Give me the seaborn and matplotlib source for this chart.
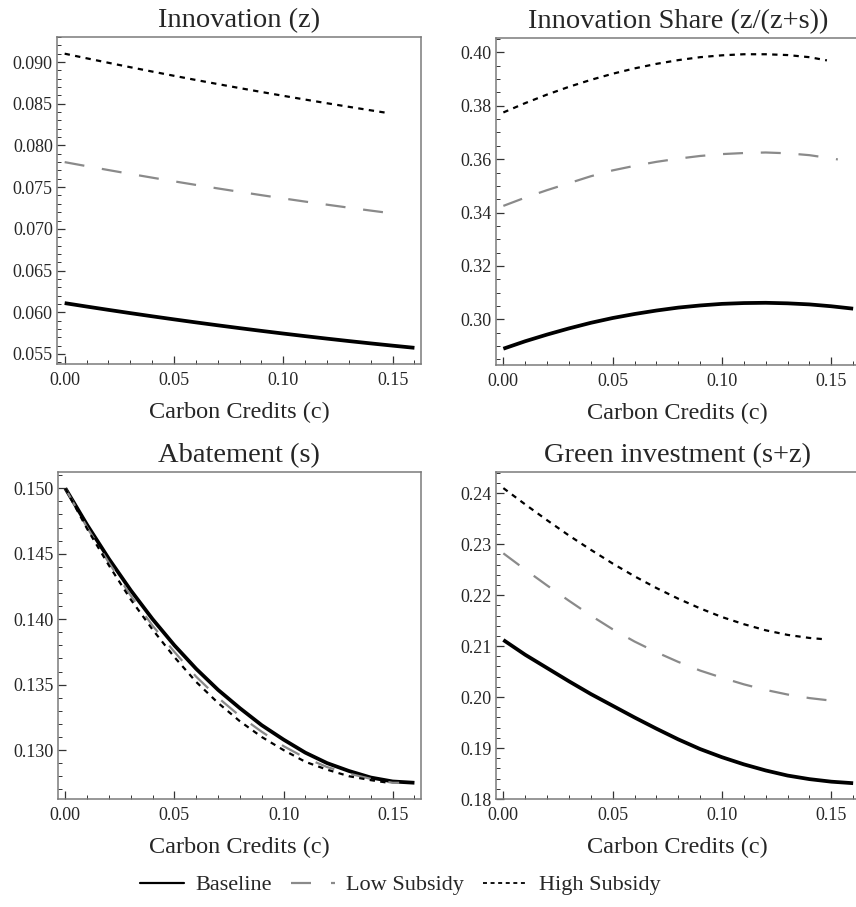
import numpy as np
import pandas as pd
import matplotlib
matplotlib.use("Agg")
import matplotlib.pyplot as plt
from matplotlib.lines import Line2D
from matplotlib.ticker import MultipleLocator, FormatStrFormatter
import seaborn as sns

# ---------------- data ----------------
c_base = [0.00, 0.01, 0.02, 0.03, 0.04, 0.05, 0.06, 0.07, 0.08, 0.09, 0.10,
          0.11, 0.12, 0.13, 0.14, 0.15, 0.16]
c_low = [0.00, 0.01, 0.02, 0.03, 0.04, 0.05, 0.06, 0.07, 0.08, 0.09, 0.10,
         0.11, 0.12, 0.13, 0.14, 0.15, 0.153]
c_high = [0.00, 0.01, 0.02, 0.03, 0.04, 0.05, 0.06, 0.07, 0.08, 0.09, 0.10,
          0.11, 0.12, 0.13, 0.14, 0.148]

# Innovation (z)
z_base = [0.06110, 0.06069, 0.06029, 0.05990, 0.05952, 0.05915, 0.05879, 0.05844,
          0.05810, 0.05777, 0.05745, 0.05714, 0.05684, 0.05655, 0.05627, 0.05600, 0.05574]
z_low = [0.07800, 0.07752, 0.07705, 0.07659, 0.07614, 0.07570, 0.07527, 0.07485,
         0.07444, 0.07404, 0.07365, 0.07327, 0.07290, 0.07254, 0.07219, 0.07185, 0.07175]
z_high = [0.09100, 0.09045, 0.08991, 0.08938, 0.08886, 0.08835, 0.08785, 0.08736,
          0.08688, 0.08641, 0.08595, 0.08550, 0.08506, 0.08463, 0.08421, 0.08388]

# Innovation share z/(z+s)
sh_base = [0.2890, 0.2918, 0.2943, 0.2966, 0.2987, 0.3005, 0.3020, 0.3033, 0.3044,
           0.3052, 0.3058, 0.3061, 0.3062, 0.3060, 0.3056, 0.3049, 0.3040]
sh_low = [0.3425, 0.3456, 0.3484, 0.3510, 0.3536, 0.3558, 0.3575, 0.3590, 0.3602,
          0.3612, 0.3619, 0.3623, 0.3625, 0.3622, 0.3615, 0.3603, 0.3599]
sh_high = [0.3775, 0.3810, 0.3842, 0.3871, 0.3897, 0.3920, 0.3940, 0.3957, 0.3971,
           0.3982, 0.3989, 0.3993, 0.3993, 0.3990, 0.3982, 0.3970]

# Abatement (s)
s_base = [0.1500, 0.1472, 0.1446, 0.1422, 0.1400, 0.1380, 0.1362, 0.1346, 0.1332,
          0.1319, 0.1308, 0.1298, 0.1290, 0.1284, 0.1279, 0.1276, 0.1275]
s_low = [0.1500, 0.1470, 0.1443, 0.1418, 0.1395, 0.1375, 0.1356, 0.1340, 0.1326,
         0.1314, 0.1303, 0.1294, 0.1287, 0.1282, 0.1278, 0.1275, 0.1275]
s_high = [0.1500, 0.1469, 0.1441, 0.1415, 0.1392, 0.1371, 0.1352, 0.1336, 0.1322,
          0.1310, 0.1300, 0.1291, 0.1285, 0.1280, 0.1277, 0.1275]

# Green investment (s+z)
g_base = [0.2112, 0.2083, 0.2057, 0.2031, 0.2006, 0.1983, 0.1960, 0.1938, 0.1917,
          0.1898, 0.1882, 0.1868, 0.1856, 0.1846, 0.1839, 0.1834, 0.1831]
g_low = [0.2282, 0.2250, 0.2219, 0.2189, 0.2160, 0.2133, 0.2109, 0.2088, 0.2069,
         0.2052, 0.2038, 0.2025, 0.2014, 0.2005, 0.1998, 0.1993, 0.1992]
g_high = [0.2410, 0.2378, 0.2347, 0.2317, 0.2289, 0.2262, 0.2237, 0.2214, 0.2193,
          0.2174, 0.2157, 0.2143, 0.2131, 0.2122, 0.2116, 0.2113]

titles = ["Innovation (z)", "Innovation Share (z/(z+s))", "Abatement (s)", "Green investment (s+z)"]
xlabel = "Carbon Credits (c)"
series_names = ["Baseline", "Low Subsidy", "High Subsidy"]
x_ticks = [0.00, 0.05, 0.10, 0.15]

# ---------------- style ----------------
sns.set_theme(style="white")
plt.rcParams["font.family"] = ["Liberation Serif", "DejaVu Serif"]

W, H = 856, 907
fig = plt.figure(figsize=(W / 100, H / 100), dpi=100)

def rect(left, top, right, bottom):
    return [left / W, 1 - bottom / H, (right - left) / W, (bottom - top) / H]

positions = [rect(57, 37, 421, 364), rect(495.7, 37.7, 859.7, 365),
             rect(57.7, 471.7, 421, 799), rect(495.7, 472.3, 859.7, 799)]
ylims = [(0.0538, 0.0930), (0.2829, 0.4055), (0.12626, 0.15127), (0.1800, 0.2441)]
ymaj = [0.005, 0.02, 0.005, 0.01]
ymin = [0.001, 0.005, 0.001, 0.002]
yfmt = ["%.3f", "%.2f", "%.3f", "%.2f"]

panels = [(z_base, z_low, z_high), (sh_base, sh_low, sh_high),
          (s_base, s_low, s_high), (g_base, g_low, g_high)]

col_base = "black"
col_low = "#8a8a8a"
col_high = "black"
ls_low = (0, (9, 8))
ls_high = (0, (2.4, 2.4))

spine_col = "#7a7a7a"

for i, (pos, (yb, yl, yh)) in enumerate(zip(positions, panels)):
    ax = fig.add_axes(pos)
    df_b = pd.DataFrame({"c": c_base, "v": yb})
    df_l = pd.DataFrame({"c": c_low, "v": yl})
    df_h = pd.DataFrame({"c": c_high, "v": yh})
    sns.lineplot(data=df_b, x="c", y="v", ax=ax, color=col_base, lw=2.7,
                 sort=False, estimator=None, solid_capstyle="butt", solid_joinstyle="round")
    sns.lineplot(data=df_l, x="c", y="v", ax=ax, color=col_low, lw=1.6,
                 linestyle=ls_low, sort=False, estimator=None, dash_capstyle="butt")
    sns.lineplot(data=df_h, x="c", y="v", ax=ax, color=col_high, lw=1.6,
                 linestyle=ls_high, sort=False, estimator=None, dash_capstyle="butt")
    ax.set_xlim(-0.0035, 0.163)
    ax.set_ylim(*ylims[i])
    ax.set_xticks(x_ticks)
    ax.xaxis.set_major_formatter(FormatStrFormatter("%.2f"))
    ax.xaxis.set_minor_locator(MultipleLocator(0.01))
    ax.yaxis.set_major_locator(MultipleLocator(ymaj[i]))
    ax.yaxis.set_minor_locator(MultipleLocator(ymin[i]))
    ax.yaxis.set_major_formatter(FormatStrFormatter(yfmt[i]))
    ax.tick_params(axis="both", which="both", direction="in", color="#333333",
                   bottom=True, left=True, top=False, right=False)
    ax.tick_params(axis="both", which="major", length=6, width=0.9, labelsize=13)
    ax.tick_params(axis="both", which="minor", length=3.2, width=0.7)
    ax.tick_params(axis="x", which="major", pad=6)
    ax.tick_params(axis="y", which="major", pad=3)
    for sp in ax.spines.values():
        sp.set_visible(True)
        sp.set_color(spine_col)
        sp.set_linewidth(1.1)
    ax.set_title(titles[i], fontsize=20.5, pad=7)
    ax.set_xlabel(xlabel, fontsize=17.5, labelpad=9)
    ax.set_ylabel("")
    ax.grid(False)

handles = [Line2D([], [], color=col_base, lw=1.6),
           Line2D([], [], color=col_low, lw=1.6, linestyle=(0, (9, 9))),
           Line2D([], [], color=col_high, lw=1.3, linestyle=(0, (2.2, 2.0)))]
fig.legend(handles, series_names, loc="center", bbox_to_anchor=(400 / W, 1 - 885 / H),
           ncol=3, frameon=False, fontsize=16, handlelength=2.0, handletextpad=0.5,
           columnspacing=0.85)

fig.savefig("out.png", dpi=100)
